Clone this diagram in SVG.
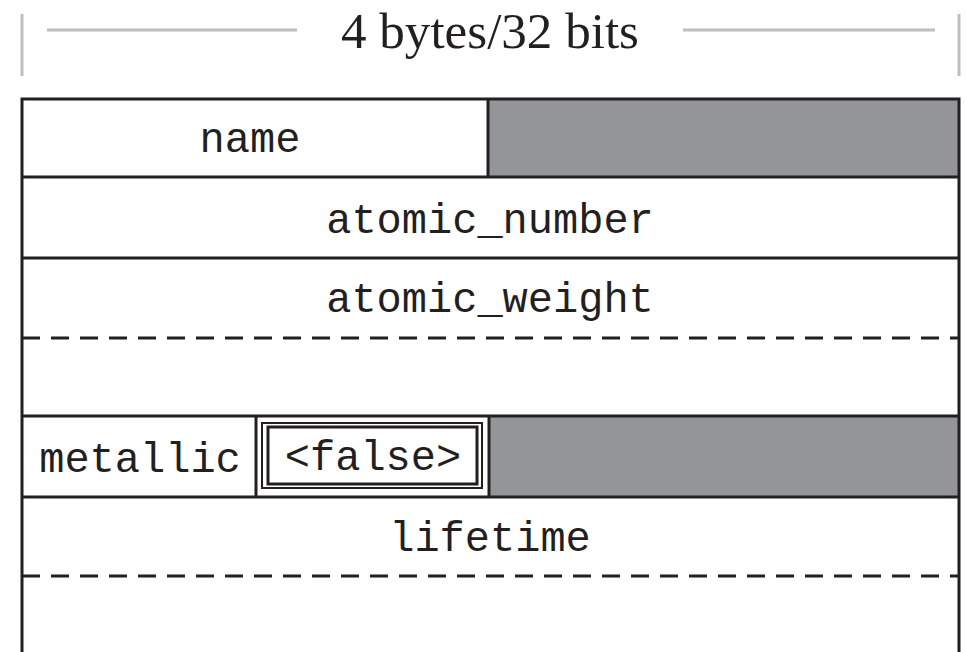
<svg xmlns="http://www.w3.org/2000/svg" width="966" height="652" viewBox="0 0 966 652">
<style>
.t{font-family:"Liberation Mono","DejaVu Sans Mono",monospace;font-size:42px;fill:#231f20;text-anchor:middle}
.h{font-family:"Liberation Serif","DejaVu Serif",serif;font-size:50px;fill:#231f20;text-anchor:middle}
.s{stroke:#231f20;stroke-width:3;fill:none}
.d{stroke:#231f20;stroke-width:3;fill:none;stroke-dasharray:18 11}
.g{fill:#939598}
.k{stroke:#bcbec0;stroke-width:3;fill:none}
</style>
<rect width="966" height="652" fill="#fff"/>
<g id="header">
<line class="k" x1="22" y1="14" x2="22" y2="76"/>
<line class="k" x1="959" y1="14" x2="959" y2="76"/>
<line class="k" x1="47" y1="30" x2="297" y2="30"/>
<line class="k" x1="683" y1="30" x2="935" y2="30"/>
<text class="h" x="490" y="48" textLength="298" lengthAdjust="spacingAndGlyphs">4 bytes/32 bits</text>
</g>
<g id="name">
<rect class="g" x="488" y="99" width="471" height="78"/>
<line class="s" x1="488" y1="99" x2="488" y2="177"/>
<text class="t" x="250" y="152">name</text>
</g>
<g id="atomic_number">
<text class="t" x="490" y="233">atomic_number</text>
</g>
<g id="atomic_weight">
<text class="t" x="490" y="312">atomic_weight</text>
<line class="d" x1="22" y1="338" x2="959" y2="338"/>
</g>
<g id="metallic">
<rect class="g" x="489" y="417" width="470" height="80"/>
<line class="s" x1="256" y1="417" x2="256" y2="497"/>
<line class="s" x1="489" y1="417" x2="489" y2="497"/>
<rect x="262" y="423" width="220" height="65" fill="none" stroke="#231f20" stroke-width="2"/>
<rect x="268" y="427" width="209" height="57" fill="none" stroke="#231f20" stroke-width="3"/>
<text class="t" x="140" y="472">metallic</text>
<text class="t" x="373" y="470">&lt;false&gt;</text>
</g>
<g id="lifetime">
<text class="t" x="490" y="551">lifetime</text>
<line class="d" x1="22" y1="576" x2="959" y2="576"/>
</g>
<g id="frame">
<polyline class="s" points="22,652 22,99 959,99 959,652"/>
<line class="s" x1="22" y1="177" x2="959" y2="177"/>
<line class="s" x1="22" y1="258" x2="959" y2="258"/>
<line class="s" x1="22" y1="416" x2="959" y2="416"/>
<line class="s" x1="22" y1="497" x2="959" y2="497"/>
</g>
</svg>
